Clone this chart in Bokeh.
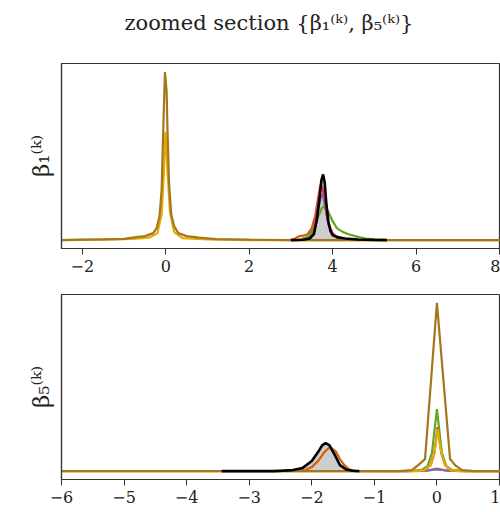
from bokeh.plotting import figure
from bokeh.layouts import column
from bokeh.models import Range1d, FixedTicker
from bokeh.core.properties import value
from bokeh.embed import file_html
from bokeh.resources import INLINE

# ---------------- data ----------------
title_text = "zoomed section {β₁⁽ᵏ⁾, β₅⁽ᵏ⁾}"
label_top = "β₁⁽ᵏ⁾"
label_bottom = "β₅⁽ᵏ⁾"

top_ticks = [-2, 0, 2, 4, 6, 8]
bottom_ticks = [-6, -5, -4, -3, -2, -1, 0, 1]

# top panel (beta_1)
t_brown_x = [-2.6, -2.0, -1.5, -1.0, -0.8, -0.5, -0.3, -0.22, -0.15, -0.1, -0.06, -0.02, 0.02, 0.04, 0.08, 0.13, 0.2, 0.3, 0.5, 0.8, 1.2, 2.0, 3.0, 4.0, 5.0, 6.0, 7.0, 8.1]
t_brown_y = [0.0, 0.02, 0.04, 0.06, 0.12, 0.2, 0.35, 0.6, 1.2, 2.5, 5.6, 8.45, 7.5, 5.6, 2.8, 1.3, 0.7, 0.35, 0.2, 0.12, 0.05, 0.02, 0.0, 0.0, 0.0, 0.0, 0.0, 0.0]
t_yellow_x = [-2.6, -1.5, -0.8, -0.4, -0.2, -0.1, -0.05, -0.01, 0.04, 0.1, 0.2, 0.4, 1.0, 2.0, 4.0, 6.0, 8.1]
t_yellow_y = [0.0, 0.02, 0.06, 0.12, 0.35, 1.3, 3.2, 5.45, 3.5, 1.4, 0.4, 0.1, 0.03, 0.0, 0.0, 0.0, 0.0]
t_orange_x = [3.0, 3.1, 3.2, 3.3, 3.4, 3.5, 3.58, 3.65, 3.71, 3.76, 3.82, 3.9, 4.0, 4.1, 4.3, 4.6]
t_orange_y = [0.02, 0.08, 0.2, 0.22, 0.3, 0.6, 1.2, 2.1, 2.8, 2.6, 1.7, 0.8, 0.35, 0.15, 0.05, 0.01]
t_purple_x = [3.3, 3.4, 3.55, 3.65, 3.72, 3.76, 3.82, 3.9, 4.0, 4.2, 4.4]
t_purple_y = [0.02, 0.1, 0.6, 1.5, 2.2, 2.3, 1.7, 0.8, 0.3, 0.08, 0.02]
t_pink_x = [3.3, 3.45, 3.55, 3.62, 3.68, 3.73, 3.78, 3.83, 3.9, 4.0, 4.1, 4.3, 4.6]
t_pink_y = [0.05, 0.2, 0.6, 1.4, 2.3, 2.7, 2.4, 1.6, 0.8, 0.3, 0.15, 0.05, 0.01]
t_green_x = [3.2, 3.4, 3.52, 3.64, 3.74, 3.82, 3.9, 4.0, 4.1, 4.25, 4.4, 4.6, 4.8, 5.0, 5.3]
t_green_y = [0.02, 0.15, 0.4, 1.1, 1.6, 1.75, 1.4, 0.95, 0.6, 0.4, 0.28, 0.16, 0.08, 0.04, 0.01]
t_black_x = [3.0, 3.3, 3.45, 3.55, 3.62, 3.68, 3.73, 3.77, 3.81, 3.85, 3.9, 3.95, 4.0, 4.1, 4.3, 4.6, 5.0, 5.3]
t_black_y = [0.0, 0.02, 0.08, 0.3, 1.0, 2.0, 3.0, 3.3, 2.9, 1.8, 0.9, 0.45, 0.25, 0.15, 0.08, 0.03, 0.01, 0.0]

# bottom panel (beta_5)
b_brown_x = [-6.1, -5.0, -4.0, -3.0, -2.0, -1.0, -0.6, -0.4, -0.3, -0.19, 0.0, 0.21, 0.29, 0.4, 0.6, 1.1]
b_brown_y = [0.0, 0.0, 0.0, 0.0, 0.0, 0.0, 0.0, 0.05, 0.3, 0.6, 8.4, 0.6, 0.3, 0.05, 0.0, 0.0]
b_yellow_x = [-6.1, -3.0, -1.0, -0.3, -0.2, -0.1, -0.04, 0.01, 0.07, 0.13, 0.22, 0.35, 1.1]
b_yellow_y = [0.0, 0.0, 0.0, 0.0, 0.05, 0.3, 0.9, 2.1, 0.9, 0.3, 0.05, 0.0, 0.0]
b_green_x = [-0.4, -0.25, -0.15, -0.08, 0.0, 0.08, 0.15, 0.25, 0.4]
b_green_y = [0.0, 0.05, 0.25, 0.9, 3.1, 0.9, 0.25, 0.05, 0.0]
b_pink_x = [-0.3, -0.2, -0.1, -0.04, 0.01, 0.07, 0.13, 0.22, 0.35]
b_pink_y = [0.0, 0.05, 0.3, 0.9, 2.2, 0.9, 0.3, 0.05, 0.0]
b_orange_x = [-2.4, -2.1, -2.0, -1.9, -1.8, -1.71, -1.62, -1.55, -1.48, -1.4, -1.3, -0.5, -0.15, 0.0, 0.15, 0.5, 1.1]
b_orange_y = [0.0, 0.05, 0.2, 0.5, 0.95, 1.2, 1.0, 0.6, 0.3, 0.08, 0.01, 0.0, 0.02, 0.12, 0.02, 0.0, 0.0]
b_purple_x = [-1.25, -0.5, -0.2, 0.0, 0.2, 0.5, 1.1]
b_purple_y = [0.0, 0.0, 0.02, 0.08, 0.02, 0.0, 0.0]
b_black_x = [-3.44, -2.6, -2.3, -2.15, -2.0, -1.9, -1.83, -1.78, -1.72, -1.63, -1.55, -1.45, -1.35, -1.24]
b_black_y = [0.0, 0.0, 0.05, 0.15, 0.5, 0.95, 1.3, 1.4, 1.3, 0.8, 0.3, 0.08, 0.02, 0.0]

ORANGE, PURPLE, PINK, GREEN, YELLOW, BROWN = "#d95f02", "#7570b3", "#e7298a", "#66a61e", "#e6ab02", "#a6761d"
FONT = "DejaVu Serif"
AX = "#333333"


def style(p, ticks, label):
    p.xgrid.visible = False
    p.ygrid.visible = False
    p.outline_line_color = AX
    p.outline_line_width = 1.2
    p.background_fill_color = "white"
    p.border_fill_color = "white"
    xa = p.xaxis[0]
    xa.ticker = FixedTicker(ticks=ticks)
    xa.major_label_overrides = {t: ("\u2212" + str(-t) if t < 0 else str(t)) for t in ticks}
    xa.major_tick_out = 6
    xa.major_tick_in = 0
    xa.minor_tick_line_color = None
    xa.major_tick_line_color = AX
    xa.axis_line_color = AX
    xa.axis_line_width = 1.2
    xa.major_label_text_font = FONT
    xa.major_label_text_font_size = "16px"
    xa.major_label_text_color = "#222222"
    xa.major_label_standoff = 5
    ya = p.yaxis[0]
    ya.ticker = FixedTicker(ticks=[])
    ya.major_tick_line_color = None
    ya.minor_tick_line_color = None
    ya.axis_line_color = AX
    ya.axis_line_width = 1.2
    ya.axis_label = label
    ya.axis_label_text_font = FONT
    ya.axis_label_text_font_size = "23px"
    ya.axis_label_text_font_style = "normal"
    ya.axis_label_text_color = "#222222"
    ya.axis_label_standoff = 8


# title strip; the column aligns its frame with the panels below (61..499 px),
# so its x range is set to those pixel positions for a 1:1 mapping
pt = figure(width=500, height=48, x_range=Range1d(61, 499), y_range=Range1d(0, 48),
            toolbar_location=None, output_backend="svg",
            min_border_left=61, min_border_right=1, min_border_top=0, min_border_bottom=0,
            x_axis_location=None, y_axis_location=None)
pt.grid.visible = False
pt.outline_line_color = None
pt.text(x=[124], y=[26], text=[title_text], text_align="left", text_baseline="middle",
        text_font=value(FONT), text_font_size="21px", text_color="#222222")

# top panel
p1 = figure(width=500, height=235, x_range=Range1d(-2.5, 8), y_range=Range1d(-0.4225, 8.8725),
            toolbar_location=None, output_backend="svg",
            min_border_left=61, min_border_right=1, min_border_top=15, min_border_bottom=35)
style(p1, top_ticks, label_top)
p1.varea(x=t_black_x, y1=[0] * len(t_black_x), y2=t_black_y, fill_color="#c4c4c4", fill_alpha=0.85)
for xs, ys, c in [(t_orange_x, t_orange_y, ORANGE), (t_purple_x, t_purple_y, PURPLE),
                  (t_pink_x, t_pink_y, PINK), (t_green_x, t_green_y, GREEN),
                  (t_yellow_x, t_yellow_y, YELLOW), (t_brown_x, t_brown_y, BROWN)]:
    p1.line(xs, ys, line_color=c, line_width=2.2)
p1.line(t_black_x, t_black_y, line_color="black", line_width=2.6)

# bottom panel
p2 = figure(width=500, height=229, x_range=Range1d(-6, 1), y_range=Range1d(-0.42, 8.82),
            toolbar_location=None, output_backend="svg",
            min_border_left=61, min_border_right=1, min_border_top=11, min_border_bottom=33)
style(p2, bottom_ticks, label_bottom)
p2.varea(x=b_black_x, y1=[0] * len(b_black_x), y2=b_black_y, fill_color="#c4c4c4", fill_alpha=0.85)
for xs, ys, c in [(b_orange_x, b_orange_y, ORANGE), (b_purple_x, b_purple_y, PURPLE),
                  (b_pink_x, b_pink_y, PINK), (b_green_x, b_green_y, GREEN),
                  (b_yellow_x, b_yellow_y, YELLOW), (b_brown_x, b_brown_y, BROWN)]:
    p2.line(xs, ys, line_color=c, line_width=2.2)
p2.line(b_black_x, b_black_y, line_color="black", line_width=2.6)

layout = column(pt, p1, p2, spacing=0)
open("out.html", "w").write(file_html(layout, INLINE))
